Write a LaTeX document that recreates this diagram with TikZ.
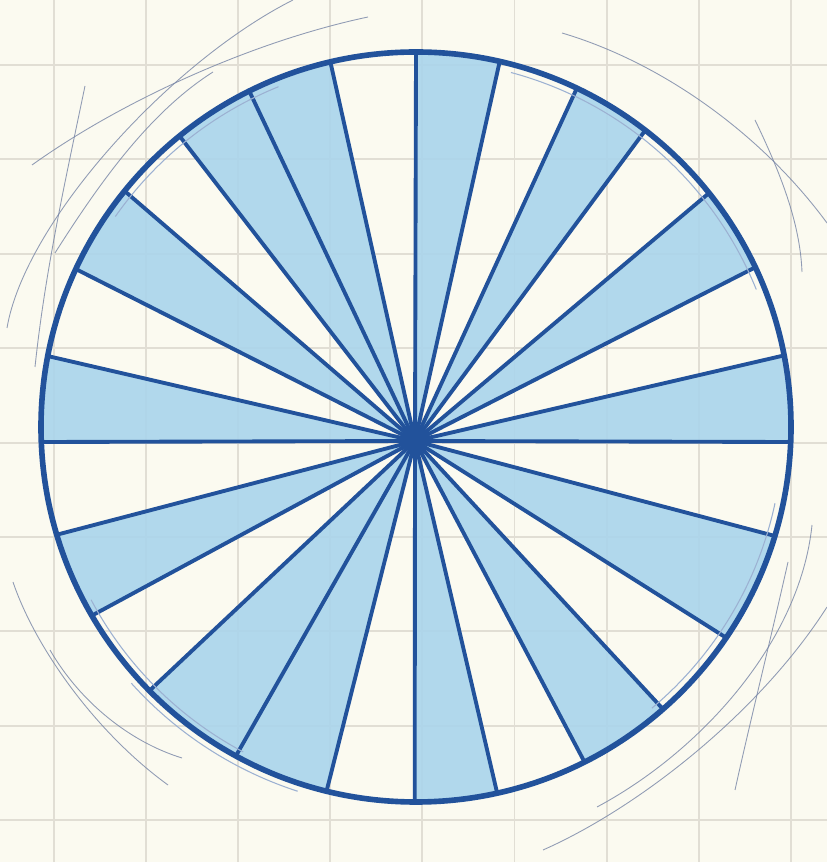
\documentclass[tikz,border=0pt]{standalone}
\usepackage{tikz}
\usetikzlibrary{calc}
\definecolor{paper}{RGB}{251,250,240}
\definecolor{gridtone}{RGB}{225,222,212}
\definecolor{inkblue}{RGB}{34,82,155}
\definecolor{wedgeblue}{RGB}{170,213,236}
\definecolor{pencil}{RGB}{118,132,165}

\begin{document}
\begin{tikzpicture}[
  x=0.02cm, y=0.02cm,
  gridline/.style={draw=gridtone, line width=1.1pt},
  wedge/.style={fill=wedgeblue, fill opacity=0.9},
  spoke/.style={draw=inkblue, line width=2.2pt, line cap=round},
  rim/.style={draw=inkblue, line width=3.2pt},
  ghost/.style={draw=inkblue!45, line width=0.6pt},
  sketch/.style={draw=pencil, line width=0.5pt, opacity=0.8},
  ]
% paper with grid
\fill[paper] (0,0) rectangle (827,862);
\useasboundingbox (0,0) rectangle (827,862);
\foreach \gx in {54,146.1,...,800} \draw[gridline] (\gx,0) -- (\gx,862);
\foreach \gy in {41.8,136.2,...,830} \draw[gridline] (0,\gy) -- (827,\gy);
% wheel: centre of rim at (416,435), spokes meet a little lower
\begin{scope}[shift={(416,435)}]
  \coordinate (hub) at (-1,-14);
  % shaded wedges
  \foreach \a/\b in {-2.3/11, 25.2/38.6, 52.3/64.6, 77.1/90, 103.2/116.4, 116.4/129.1,
                     141/155.1, 169.1/182.3, 196.7/210.2, 224.7/241.3, 241.3/256.2,
                     269.8/282.5, 296.7/311.2, 325.8/343.1}
    \fill[wedge] (hub) -- (\a:373) arc[start angle=\a, end angle=\b, radius=373] -- cycle;
  % spokes
  \foreach \a in {-2.3, 11, 25.2, 38.6, 52.3, 64.6, 77.1, 90, 103.2, 116.4, 129.1, 141,
                  155.1, 169.1, 182.3, 196.7, 210.2, 224.7, 241.3, 256.2, 269.8, 282.5,
                  296.7, 311.2, 325.8, 343.1}
    \draw[spoke] (hub) -- (\a:374);
  \fill[inkblue] (hub) circle[radius=8];
  % rim and its faint second strokes
  \draw[rim] (0,0) circle[radius=375];
  \draw[ghost] (75:367) arc[start angle=75, end angle=22, radius=367];
  \draw[ghost] (145:367) arc[start angle=145, end angle=112, radius=367];
  \draw[ghost] (208:368) arc[start angle=208, end angle=242, radius=368];
  \draw[ghost] (222:383) arc[start angle=222, end angle=252, radius=383];
  \draw[ghost] (-12:367) arc[start angle=-12, end angle=-50, radius=367];
\end{scope}
% pencil construction lines
\draw[sketch] (7,534) .. controls (25,640) and (170,800) .. (293,862);
\draw[sketch] (55,609) .. controls (100,680) and (150,750) .. (213,790);
\draw[sketch] (32,697) .. controls (120,760) and (250,820) .. (368,845);
\draw[sketch] (85,776) .. controls (65,680) and (45,590) .. (35,495);
\draw[sketch] (562,829) .. controls (660,800) and (760,730) .. (827,639);
\draw[sketch] (755,742) .. controls (780,690) and (800,640) .. (802,590);
\draw[sketch] (543,12) .. controls (640,55) and (760,150) .. (827,255);
\draw[sketch] (597,55) .. controls (700,110) and (800,220) .. (812,337);
\draw[sketch] (788,300) .. controls (770,220) and (750,140) .. (735,72);
\draw[sketch] (13,280) .. controls (35,215) and (95,130) .. (168,77);
\draw[sketch] (50,212) .. controls (80,160) and (130,120) .. (182,104);
\end{tikzpicture}
\end{document}
